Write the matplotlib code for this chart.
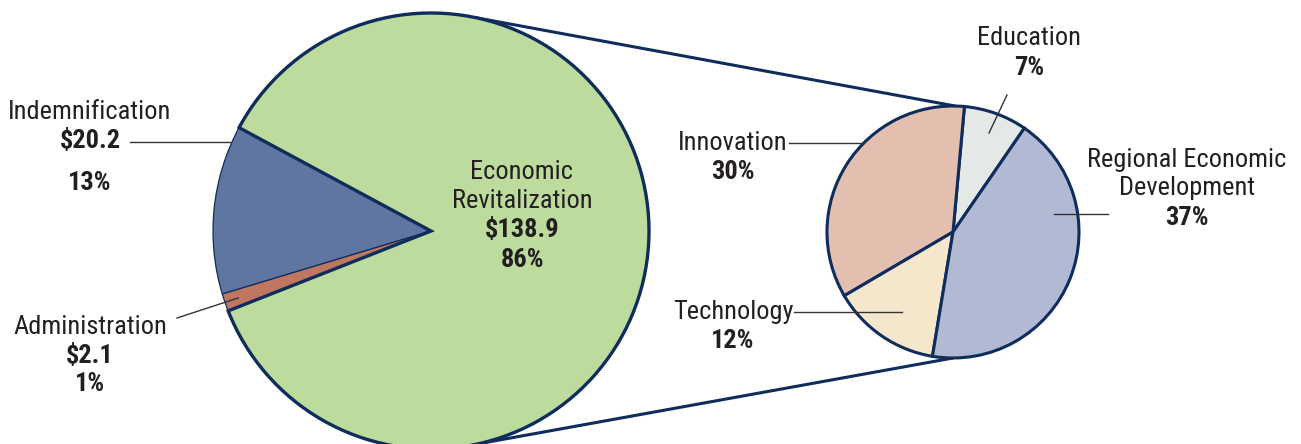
import numpy as np
import matplotlib.pyplot as plt

plt.rcParams['font.family'] = ['Roboto Condensed', 'Liberation Sans Narrow', 'Nimbus Sans Narrow',
                               'Arial Narrow', 'Roboto', 'DejaVu Sans']

# totals in $ millions
main_labels = ["Economic\nRevitalization", "Indemnification", "Administration"]
main_values = [138.9, 20.2, 2.1]
main_colors = ["#bcdb9d", "#5f77a0", "#c07762"]

# breakdown of Economic Revitalization, share of total (%)
sub_labels = ["Education", "Innovation", "Technology", "Regional Economic\nDevelopment"]
sub_values = [7, 30, 12, 37]
sub_colors = ["#e4e9e7", "#e2bfaf", "#f5e7cb", "#b1b9d3"]

NAVY = "#0e2c5c"
TXT = "#231f20"
FS = 19

fig = plt.figure(figsize=(13.01, 4.44), dpi=100)
ax = fig.add_axes([0, 0, 1, 1])

big_c, big_r = (431, 213), 218
small_c, small_r = (953, 212), 126

total = sum(main_values)

wedges, _ = ax.pie(main_values, colors=main_colors, startangle=201.5, center=big_c,
                   radius=big_r, wedgeprops=dict(edgecolor=NAVY, linewidth=0.9))
wedges[0].set_linewidth(2.4)
wedges[0].set_zorder(3)
for w in wedges[1:]:
    w.set_zorder(2)

sw, _ = ax.pie(sub_values, colors=sub_colors, startangle=55.5, center=small_c,
               radius=small_r, wedgeprops=dict(edgecolor=NAVY, linewidth=2.2))
for w in sw:
    w.set_zorder(3)

ax.set_xlim(0, 1301)
ax.set_ylim(0, 444)
ax.set_aspect('equal')
ax.axis('off')


def on_circle(c, r, deg):
    a = np.deg2rad(deg)
    return c[0] + r * np.cos(a), c[1] + r * np.sin(a)


# zoom connector lines
for a_big, a_small in [(77.8, 89), (-77.5, -90)]:
    p1 = on_circle(big_c, big_r, a_big)
    p2 = on_circle(small_c, small_r, a_small)
    ax.plot([p1[0], p2[0]], [p1[1], p2[1]], color=NAVY, lw=2.2, zorder=1,
            solid_capstyle='round')


def lines(x, y, items, ha='center'):
    # items: list of (text, bold, dy)
    for s, bold, dy in items:
        ax.text(x, y - dy, s, ha=ha, va='center', fontsize=FS, color=TXT,
                fontweight='bold' if bold else 'normal', zorder=5)


def money(v):
    return "$" + f"{v:.1f}"


def pct(v):
    return f"{v / total * 100:.0f}%"


lead = dict(color="#333333", lw=1.0, zorder=4)

# big pie labels
lines(522, 444 - 172, [("Economic", False, 0), ("Revitalization", False, 29),
                        (money(main_values[0]), True, 58), (pct(main_values[0]), True, 88)])
lines(90, 444 - 112, [(main_labels[1], False, 0), (money(main_values[1]), True, 29),
                       (pct(main_values[1]), True, 71)])
ax.plot([130, 230], [444 - 142, 444 - 142], **lead)
lines(90, 444 - 327, [(main_labels[2], False, 0), (money(main_values[2]), True, 29),
                       (pct(main_values[2]), True, 57)])
# leader into the thin Administration wedge
w = wedges[2]
tip = on_circle(big_c, big_r - 14, (w.theta1 + w.theta2) / 2)
ax.plot([177, tip[0]], [444 - 318, tip[1]], **lead)

# breakdown labels
lines(1029, 444 - 38, [(sub_labels[0], False, 0), (f"{sub_values[0]}%", True, 30)])
ax.plot([1007, 989], [444 - 95, 444 - 133], **lead)
lines(733, 444 - 143, [(sub_labels[1], False, 0), (f"{sub_values[1]}%", True, 29)])
ax.plot([789, 863], [444 - 143, 444 - 143], **lead)
lines(733, 444 - 312, [(sub_labels[2], False, 0), (f"{sub_values[2]}%", True, 29)])
ax.plot([794, 902], [444 - 312, 444 - 312], **lead)
lines(1187, 444 - 160, [("Regional Economic", False, 0), ("Development", False, 28),
                         (f"{sub_values[3]}%", True, 58)])
ax.plot([1054, 1108], [444 - 214, 444 - 214], **lead)

fig.savefig("out.png", dpi=100)
